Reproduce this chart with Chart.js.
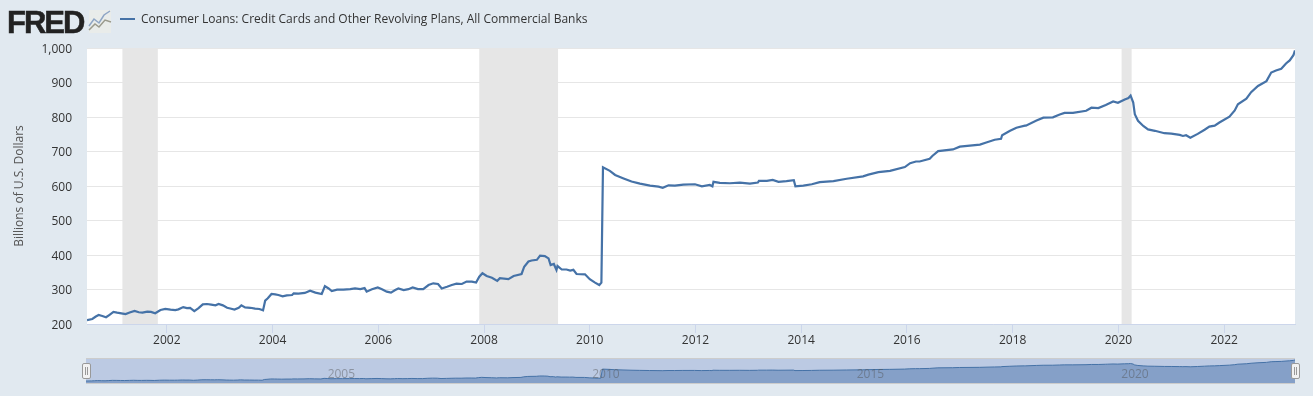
<!DOCTYPE html>
<html>
<head>
<meta charset="utf-8">
<title>Consumer Loans</title>
<script src="https://cdn.jsdelivr.net/npm/chart.js@4/dist/chart.umd.min.js"></script>
<style>
  html, body { margin: 0; padding: 0; background: #e1e9f0; overflow: hidden; }
  body { width: 1313px; height: 396px; position: relative; font-family: "Open Sans", sans-serif; }
  canvas { position: absolute; left: 0; }
  #logo { position: absolute; left: 7px; top: 5px; font: bold 31px/36px "Liberation Sans", sans-serif; letter-spacing: -2px; color: #222; -webkit-text-stroke: 0.5px #222; }
  #icon { position: absolute; left: 88px; top: 9px; }
  #swatch { position: absolute; left: 120px; top: 18px; width: 15px; height: 2px; background: #4572a7; }
  #title { position: absolute; left: 141px; top: 10px; font-size: 12px; line-height: 17px; color: #333; white-space: nowrap; }
</style>
</head>
<body>
<canvas id="mainChart" width="1313" height="396" style="top:0"></canvas>
<canvas id="navChart" width="1313" height="36" style="top:352px"></canvas>
<div id="logo">FRED</div>
<svg id="icon" width="24" height="25" viewBox="0 0 24 25">
  <rect x="1" y="1" width="22" height="23" fill="#e9ecea"/>
  <polyline points="1,21 7,15 11,18 17,11 23,13" fill="none" stroke="#9a9a8c" stroke-width="1.5"/>
  <polyline points="1,17 6,10 11,14 16,6 22,2" fill="none" stroke="#8ea5c4" stroke-width="1.5"/>
</svg>
<div id="swatch"></div>
<div id="title">Consumer Loans: Credit Cards and Other Revolving Plans, All Commercial Banks</div>
<script>
// values (decimal year, billions of dollars)
const years = [
  2000.49,2000.59,2000.65,2000.71,2000.78,2000.85,2000.91,2000.99,2001.06,2001.14,
  2001.22,2001.31,2001.39,2001.47,2001.54,2001.63,2001.70,2001.78,2001.88,2001.97,
  2002.07,2002.16,2002.22,2002.31,2002.38,2002.44,2002.52,2002.60,2002.68,2002.76,
  2002.84,2002.92,2002.98,2003.06,2003.14,2003.20,2003.28,2003.36,2003.41,2003.48,
  2003.58,2003.67,2003.75,2003.82,2003.86,2003.91,2003.98,2004.05,2004.11,2004.19,
  2004.27,2004.37,2004.40,2004.49,2004.61,2004.71,2004.81,2004.93,2004.99,2005.06,
  2005.12,2005.22,2005.34,2005.47,2005.56,2005.66,2005.74,2005.78,2005.88,2005.99,
  2006.07,2006.16,2006.24,2006.32,2006.38,2006.48,2006.57,2006.65,2006.75,2006.85,
  2006.95,2007.04,2007.13,2007.20,2007.30,2007.39,2007.48,2007.58,2007.67,2007.77,
  2007.85,2007.91,2007.97,2008.05,2008.15,2008.25,2008.30,2008.46,2008.56,2008.71,
  2008.76,2008.84,2008.90,2009.00,2009.06,2009.15,2009.22,2009.26,2009.32,2009.37,
  2009.39,2009.47,2009.56,2009.63,2009.69,2009.75,2009.91,2010.00,2010.10,2010.18,
  2010.22,2010.25,2010.38,2010.48,2010.64,2010.79,2010.95,2011.14,2011.30,2011.38,
  2011.49,2011.61,2011.77,2011.99,2012.12,2012.27,2012.32,2012.34,2012.46,2012.65,
  2012.84,2013.03,2013.18,2013.20,2013.35,2013.46,2013.57,2013.72,2013.86,2013.89,
  2014.04,2014.20,2014.35,2014.61,2014.86,2015.17,2015.27,2015.46,2015.68,2015.96,
  2016.06,2016.17,2016.24,2016.43,2016.48,2016.59,2016.87,2017.00,2017.38,2017.50,
  2017.66,2017.78,2017.80,2017.95,2018.07,2018.23,2018.25,2018.45,2018.58,2018.76,
  2018.89,2018.98,2019.14,2019.39,2019.49,2019.62,2019.76,2019.80,2019.90,2019.99,
  2020.12,2020.19,2020.23,2020.28,2020.31,2020.37,2020.47,2020.56,2020.69,2020.87,
  2021.00,2021.16,2021.22,2021.28,2021.36,2021.50,2021.63,2021.72,2021.82,2021.91,
  2022.10,2022.20,2022.26,2022.42,2022.51,2022.64,2022.80,2022.89,2022.98,2023.08,
  2023.17,2023.24,2023.31,2023.34
];
const loans = [
  211,214.5,221,226,223,219.5,226,235,233,231,
  229,234,238,234,233,236,235,231,240.5,244,
  241.5,240.5,242.5,249,246,247,237.5,246,257,258,
  256,254,258,254,247,245,242,247,254,248,
  247,244.5,243.5,239.5,267.6,274.4,287,286,284,280,
  283,284,289,288,290,296.6,291,287,310,303,
  295.6,299.5,299.5,301,303,301,304,293.7,300.5,306,
  301,293.7,291,298.5,303,298.5,301,306,301,301,
  313,318,316,303,308,313,317,316,323,323,
  320,337,347,339,334,325,333,330,339,345,
  366,381,384,386,398,397,390,371,374,356.5,
  368,358,358,355,357,345,344,330,320,313,
  320,654,644,632,622,613,607,601,598,595,
  602,601,604,605,599,603,599,612,609,608,
  610,607,610,615,615,617.4,612,614,617,599,
  601,605,611,614,621,628,633,640,644,655,
  666,671,671,679,687,701,706,714,720,726,
  734,737,747,760,769,775,775,790,798,799,
  807,812,812,818,827,826,835,838,845,841,
  851,855,862,842,808,789,774,764,760,753,
  752,748,745,747,740,751,763,772,775,784,
  801,819,837,853,872,890,904,929,935,940,
  955,964,979,993
];
const recessionStart = [2001.16, 2007.91, 2020.06];
const recessionEnd = [2001.83, 2009.40, 2020.25];
const xTickYears = [2002,2004,2006,2008,2010,2012,2014,2016,2018,2020,2022];
const navLabelYears = [2005,2010,2015,2020];
const xMin = 2000.49;
const xMax = 2023.34;

const points = years.map((y, i) => ({ x: y, y: loans[i] }));

const plotPaint = {
  id: 'plotPaint',
  beforeDraw(chart) {
    const a = chart.chartArea, c = chart.ctx;
    c.fillStyle = '#ffffff';
    c.fillRect(a.left, a.top, a.right - a.left, a.bottom - a.top);
  },
  beforeDatasetsDraw(chart) {
    const a = chart.chartArea, c = chart.ctx, sx = chart.scales.x;
    c.fillStyle = '#e6e6e6';
    recessionStart.forEach((s, i) => {
      const l = sx.getPixelForValue(s), r = sx.getPixelForValue(recessionEnd[i]);
      c.fillRect(l, a.top, r - l, a.bottom - a.top);
    });
  }
};

new Chart(document.getElementById('mainChart'), {
  type: 'line',
  data: { datasets: [{
    label: 'Consumer Loans: Credit Cards and Other Revolving Plans, All Commercial Banks',
    data: points,
    borderColor: '#4572a7',
    borderWidth: 2.2,
    pointRadius: 0,
    tension: 0,
    fill: false
  }] },
  options: {
    responsive: false,
    animation: false,
    layout: { padding: { top: 48, right: 18, left: 0, bottom: 0 } },
    plugins: { legend: { display: false }, tooltip: { enabled: false } },
    scales: {
      x: {
        type: 'linear',
        min: xMin,
        max: xMax,
        afterBuildTicks: s => { s.ticks = xTickYears.map(v => ({ value: v })); },
        afterFit: s => { s.height = 72; },
        grid: { drawOnChartArea: false, drawTicks: true, tickLength: 9, tickColor: '#ccd6eb' },
        border: { color: '#ccd6eb', width: 1 },
        ticks: {
          autoSkip: false, maxRotation: 0, padding: 0,
          color: '#333333',
          font: { family: '"Open Sans"', size: 12 },
          callback: v => String(v)
        }
      },
      y: {
        min: 200,
        max: 1000,
        afterFit: s => { s.width = 87; },
        grid: { color: '#e6e6e6', lineWidth: 1, drawTicks: false },
        border: { display: false },
        title: {
          display: true,
          text: 'Billions of U.S. Dollars',
          color: '#555555',
          font: { family: '"Open Sans"', size: 12 },
          padding: { top: 12, bottom: 0 }
        },
        ticks: {
          stepSize: 100,
          padding: 15,
          labelOffset: 1.5,
          color: '#333333',
          font: { family: '"Open Sans"', size: 12 }
        }
      }
    }
  },
  plugins: [plotPaint]
});

// navigator strip under the chart
const navPaint = {
  id: 'navPaint',
  beforeDraw(chart) {
    const a = chart.chartArea, c = chart.ctx;
    c.fillStyle = '#bccae3';
    c.fillRect(a.left, a.top, a.right - a.left, a.bottom - a.top);
  },
  afterDraw(chart) {
    const a = chart.chartArea, c = chart.ctx, sx = chart.scales.x;
    c.fillStyle = '#cccccc';
    c.fillRect(a.left, a.top - 1, a.right - a.left, 1);
    c.fillRect(a.left, a.bottom, a.right - a.left, 1);
    c.font = '12px "Open Sans"';
    c.fillStyle = 'rgba(80,80,80,0.45)';
    c.textAlign = 'left';
    c.textBaseline = 'middle';
    navLabelYears.forEach(v => c.fillText(String(v), sx.getPixelForValue(v) + 3, a.top + 16));
    [a.left, a.right].forEach(px => {
      c.fillStyle = '#f2f2f2';
      c.strokeStyle = '#999999';
      c.beginPath();
      c.roundRect(px - 3.5, a.top + 4.5, 8, 15, 1.5);
      c.fill();
      c.stroke();
      c.beginPath();
      c.moveTo(px - 0.5, a.top + 8); c.lineTo(px - 0.5, a.top + 16);
      c.moveTo(px + 1.5, a.top + 8); c.lineTo(px + 1.5, a.top + 16);
      c.stroke();
    });
  }
};

new Chart(document.getElementById('navChart'), {
  type: 'line',
  data: { datasets: [{
    data: points,
    borderColor: '#4572a7',
    borderWidth: 1,
    backgroundColor: '#85a0c8',
    pointRadius: 0,
    tension: 0,
    fill: 'start'
  }] },
  options: {
    responsive: false,
    animation: false,
    layout: { padding: { left: 86, right: 18, top: 7, bottom: 5 } },
    plugins: { legend: { display: false }, tooltip: { enabled: false } },
    scales: {
      x: { type: 'linear', display: false, min: xMin, max: xMax },
      y: { display: false, min: 137, max: 1030 }
    }
  },
  plugins: [navPaint]
});
</script>
</body>
</html>
